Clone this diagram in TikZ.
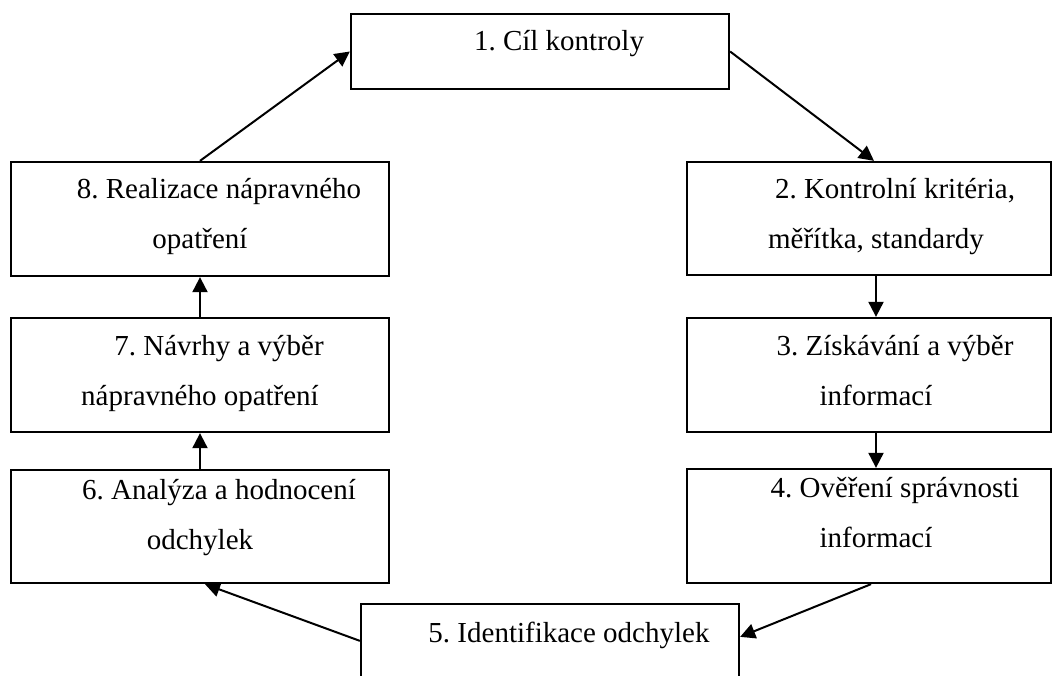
\documentclass[tikz,border=0pt]{standalone}
\usepackage{fontspec}
\setmainfont{Liberation Serif}
\usetikzlibrary{arrows.meta}
\begin{document}
\begin{tikzpicture}[x=1pt,y=-1pt,
  box/.style={draw, line width=2.3pt, minimum width=378pt, inner sep=0pt},
  rbox/.style={box, minimum width=364pt},
  lbl/.style={font=\fontsize{29}{50}\selectfont\frenchspacing, align=center, inner sep=0pt, anchor=base},
  conn/.style={line width=2pt, -{Triangle[length=15pt,width=15pt]}}]
\useasboundingbox (0,0) rectangle (1054,675);
\clip (0,0) rectangle (1054,675);
\node[box, minimum height=75pt] (b1) at (540,51.5) {};
\node[box, minimum height=114pt] (b8) at (200,219) {};
\node[box, minimum height=114pt] (b7) at (200,375) {};
\node[box, minimum height=113pt] (b6) at (200,526.5) {};
\node[rbox, minimum height=113pt] (b2) at (869,218.5) {};
\node[rbox, minimum height=114pt] (b3) at (869,375) {};
\node[rbox, minimum height=114pt] (b4) at (869,526) {};
\node[box, minimum height=114pt] (b5) at (550,661) {};
\node[lbl] (t1) at (540,50) {\hspace*{38pt}1. Cíl kontroly};
\node[lbl] (t8) at (200,248) {\hspace*{38pt}8. Realizace nápravného\\opatření};
\node[lbl] (t7) at (200,405) {\hspace*{38pt}7. Návrhy a výběr\\nápravného opatření};
\node[lbl] (t6) at (200,549) {\hspace*{38pt}6. Analýza a hodnocení\\odchylek};
\node[lbl] (t2) at (876,248) {\hspace*{38pt}2. Kontrolní kritéria,\\měřítka, standardy};
\node[lbl] (t3) at (876,405) {\hspace*{38pt}3. Získávání a výběr\\informací};
\node[lbl] (t4) at (876,547) {\hspace*{38pt}4. Ověření správnosti\\informací};
\node[lbl] (t5) at (550,642) {\hspace*{38pt}5. Identifikace odchylek};
\draw[conn] (b1.east) -- ([xshift=5pt]b2.north);
\draw[conn] ([xshift=7pt]b2.south) -- ([xshift=7pt]b3.north);
\draw[conn] ([xshift=7pt]b3.south) -- ([xshift=7pt]b4.north);
\draw[conn] ([xshift=2pt]b4.south) -- ([yshift=-34pt]b5.north east);
\draw[conn] ([yshift=-38pt]b5.north west) -- ([xshift=5pt]b6.south);
\draw[conn] (b6.north) -- (b7.south);
\draw[conn] (b7.north) -- (b8.south);
\draw[conn] (b8.north) -- (b1.west);
\end{tikzpicture}
\end{document}
